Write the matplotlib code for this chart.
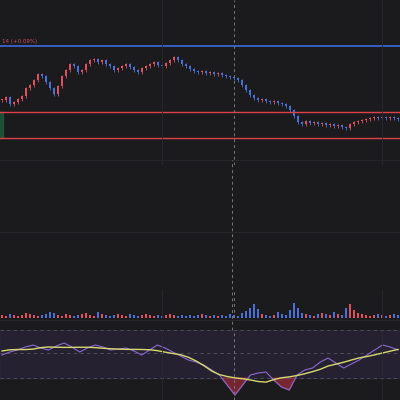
import matplotlib.pyplot as plt
import numpy as np
import pandas as pd

# price path (close of each candle)
closes = [100, 103, 96, 98, 101, 104, 112, 115, 120, 126, 124, 118, 112, 106, 114, 124, 130, 136, 134, 128,
          130, 136, 140, 141, 138, 140, 136, 134, 130, 132, 134, 136, 133, 130, 128, 132, 134, 136, 138, 135,
          134, 137, 140, 143, 140, 136, 134, 131, 129, 128, 129, 127, 128, 126, 127, 125, 124, 123, 122, 120,
          115, 110, 105, 102, 100, 101, 99, 98, 99, 97, 96, 94, 90, 84, 78, 76, 79, 77, 78, 76,
          77, 75, 76, 74, 75, 73, 72, 76, 78, 79, 80, 81, 82, 83, 82, 83, 82, 83, 82, 81]
volume = [3, 2, 4, 3, 2, 3, 5, 4, 3, 2, 3, 4, 6, 5, 3, 2, 4, 3, 2, 3,
          4, 5, 3, 2, 6, 4, 3, 2, 3, 4, 3, 2, 4, 3, 2, 3, 4, 3, 2, 3,
          2, 3, 4, 3, 2, 3, 2, 3, 2, 3, 4, 3, 2, 3, 2, 3, 2, 4, 3, 2,
          5, 7, 10, 14, 9, 4, 3, 2, 3, 6, 4, 3, 8, 15, 10, 5, 4, 3, 2, 4,
          5, 4, 3, 6, 4, 3, 10, 14, 8, 5, 4, 3, 2, 3, 4, 3, 2, 3, 4, 3]
rsi = [355, 352, 350, 347, 345, 348, 350, 346, 343, 347, 352, 348, 345, 347, 350, 349, 348, 351, 355, 350,
       345, 348, 352, 356, 360, 362, 365, 370, 375, 385, 395, 385, 375, 373, 372, 380, 387, 390, 375, 370,
       368, 362, 358, 363, 368, 364, 360, 355, 350, 345, 347, 350]
level_blue = 154
level_red = [88, 62]

bg = '#1b1b1d'
grid = '#2a2a2e'
up = '#e0505a'
down = '#4a6fd6'

fig = plt.figure(figsize=(4, 4), dpi=100, facecolor=bg)
ax = fig.add_axes([0, 0.5875, 1, 0.4125], facecolor=bg)
axv = fig.add_axes([0, 0.205, 1, 0.07], facecolor=bg)
axr = fig.add_axes([0, 0, 1, 0.175], facecolor=bg)

n = len(closes)
x = np.arange(n)
opens = [closes[0]] + closes[:-1]
for i in range(n):
    o, c = opens[i], closes[i]
    col = up if c >= o else down
    ax.vlines(x[i], min(o, c) - 1.5, max(o, c) + 1.5, color=col, lw=0.6)
    ax.bar(x[i], max(abs(c - o), 0.6), bottom=min(o, c), width=0.7, color=col)
ax.axhline(level_blue, color='#3d6be0', lw=1.2)
for lv in level_red:
    ax.axhline(lv, color='#e0404a', lw=1.0)
ax.fill_between([-1, 0.3], level_red[1], level_red[0], color='#1f5c3a', alpha=0.8)
ax.text(0, level_blue + 1.5, '14 (+0.09%)', color='#c05060', fontsize=4, va='bottom')
ax.set_xlim(-0.5, n - 0.5)
ax.set_ylim(35, 200)

cols = [up if closes[i] >= opens[i] else down for i in range(n)]
axv.bar(x, volume, width=0.7, color=cols)
axv.set_xlim(-0.5, n - 0.5)
axv.set_ylim(0, 28)

rx = np.linspace(0, n - 1, len(rsi))
rs = pd.Series(rsi)
ma = rs.rolling(8, min_periods=1, center=True).mean()
axr.axhspan(330, 378, color='#3a2f55', alpha=0.35)
for lv in [330, 353, 378]:
    axr.axhline(lv, color='#555560', lw=0.6, ls=(0, (4, 4)))
axr.fill_between(rx, 378, rsi, where=np.array(rsi) > 378, color='#b03040', alpha=0.6, interpolate=True)
axr.plot(rx, rsi, color='#8a6ad0', lw=0.8)
axr.plot(rx, ma, color='#d8d870', lw=1.0)
axr.set_xlim(-0.5, n - 0.5)
axr.set_ylim(400, 330)

for a in (ax, axv, axr):
    for gx in [40, 95]:
        a.axvline(gx, color=grid, lw=0.6)
    a.axvline(58, color='#777777', lw=0.7, ls=(0, (3, 3)))
    a.set_xticks([])
    a.set_yticks([])
    for s in a.spines.values():
        s.set_visible(False)
for gy in [0.6, 0.42, 0.2]:
    fig.add_artist(plt.Line2D([0, 1], [gy, gy], color=grid, lw=0.6))
fig.add_artist(plt.Line2D([0.58, 0.58], [0.175, 0.6], color='#777777', lw=0.7, ls=(0, (3, 3))))

plt.savefig('out.png', facecolor=bg)
plt.close()
